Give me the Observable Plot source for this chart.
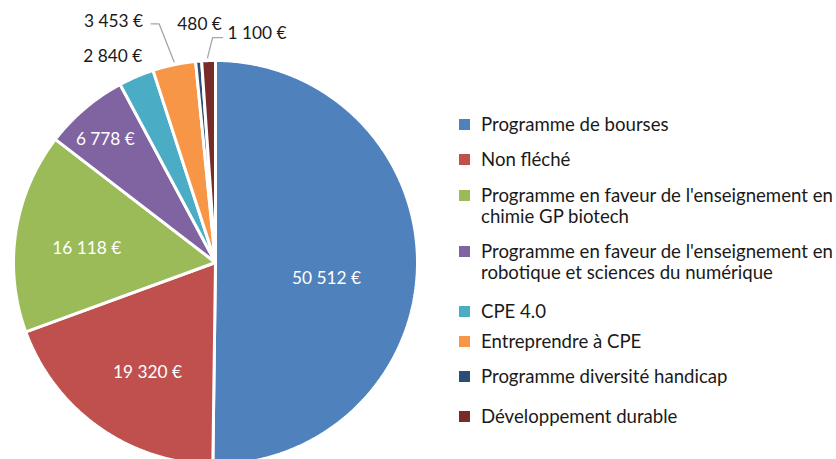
<!DOCTYPE html>
<html><head><meta charset="utf-8">
<script src="https://cdn.jsdelivr.net/npm/d3@7"></script>
<script src="https://cdn.jsdelivr.net/npm/@observablehq/plot@0.6"></script>
<style>
html,body{margin:0;padding:0;background:#fff;}
#wrap{position:relative;width:836px;height:459px;overflow:hidden;font-family:Lato,"Open Sans",sans-serif;}
#legend{position:absolute;left:0;top:0;}
.item{position:absolute;left:481px;font-size:18.6px;line-height:21px;color:#1a1a1a;white-space:pre;}
.sw{position:absolute;width:11px;height:11px;}
</style></head>
<body><div id="wrap"></div>
<script>
const categories = [
  "Programme de bourses",
  "Non fléché",
  "Programme en faveur de l'enseignement en\nchimie GP biotech",
  "Programme en faveur de l'enseignement en\nrobotique et sciences du numérique",
  "CPE 4.0",
  "Entreprendre à CPE",
  "Programme diversité handicap",
  "Développement durable"
];
const values = [50512, 19320, 16118, 6778, 2840, 3453, 480, 1100];
const colors = ["#4F81BD", "#C0504D", "#9BBB59", "#8064A2", "#4BACC6", "#F79646", "#2C4D75", "#772C2A"];

// layout (pixels)
const W = 836, H = 459, CX = 215, CY = 262, R = 202;
const FONT = "Lato, 'Open Sans', sans-serif";
const fmt = v => d3.format(",")(v).replace(/,/g, "\u00a0") + "\u00a0€";

const rows = categories.map((c, i) => ({cat: c, value: values[i], color: colors[i], i}));
const arcs = d3.pie().sort(null).value(d => d.value)(rows);

function slicePts(a) {
  const pts = [{x: 0, y: 0}];
  const n = Math.max(2, Math.ceil((a.endAngle - a.startAngle) / (Math.PI / 360)));
  for (let k = 0; k <= n; k++) {
    const t = a.startAngle + (a.endAngle - a.startAngle) * k / n;
    pts.push({x: Math.sin(t), y: Math.cos(t)});
  }
  pts.push({x: 0, y: 0});
  return pts;
}
const px = 1 / R;

const marks = arcs.map(a => Plot.line(slicePts(a), {x: "x", y: "y", fill: a.data.color, stroke: "white", strokeWidth: 3, strokeLinejoin: "miter", curve: "linear"}));

// inside labels: radius fraction + pixel nudge
const insideCfg = {
  0: {r: 0.55, dx: 0, dy: 15},
  1: {r: 0.66, dx: 9, dy: 1},
  2: {r: 0.67, dx: 5, dy: 7},
  3: {r: 0.82, dx: -3, dy: 3}
};
const inside = arcs.filter(a => a.data.i in insideCfg).map(a => {
  const m = (a.startAngle + a.endAngle) / 2, c = insideCfg[a.data.i];
  return {x: c.r * Math.sin(m) + c.dx * px, y: c.r * Math.cos(m) - c.dy * px, label: fmt(a.data.value)};
});
marks.push(Plot.text(inside, {x: "x", y: "y", text: "label", fill: "white", fontSize: 17.3, fontFamily: FONT}));

// outside labels: offsets in pixels from edge point at mid-angle
const outside = {
  4: {dx: 6, dy: -20, anchor: "end", leader: null},
  5: {dx: -31, dy: -43, anchor: "end", leader: [[0, -3], [-15, -41], [-23, -41]]},
  6: {dx: 1, dy: -37, anchor: "middle", leader: null},
  7: {dx: 19, dy: -27, anchor: "start", leader: [[-1, -3], [4, -23], [14, -23]]}
};
arcs.filter(a => a.data.i in outside).forEach(a => {
  const o = outside[a.data.i];
  const m = (a.startAngle + a.endAngle) / 2;
  const ex = Math.sin(m), ey = Math.cos(m);
  if (o.leader) {
    marks.push(Plot.line(o.leader.map(([dx, dy]) => ({x: ex + dx * px, y: ey - dy * px})), {x: "x", y: "y", stroke: "#a6a6a6", strokeWidth: 1.3}));
  }
  marks.push(Plot.text([{x: ex + o.dx * px, y: ey - o.dy * px, label: fmt(a.data.value)}], {x: "x", y: "y", text: "label", textAnchor: o.anchor, fill: "#1a1a1a", fontSize: 17.3, fontFamily: FONT}));
});

const chart = Plot.plot({
  width: W, height: H, margin: 0,
  x: {domain: [-CX / R, (W - CX) / R], axis: null},
  y: {domain: [-(H - CY) / R, CY / R], axis: null},
  style: {background: "white"},
  marks
});
const wrap = document.getElementById("wrap");
wrap.appendChild(chart);

// legend
const legend = document.createElement("div");
legend.id = "legend";
const legendTops = [125, 160, 196, 252, 312, 342, 377, 417];
rows.forEach((r, i) => {
  const sw = document.createElement("div");
  sw.className = "sw";
  sw.style.left = "459px";
  sw.style.top = (legendTops[i] - 6) + "px";
  sw.style.background = r.color;
  legend.appendChild(sw);
  const t = document.createElement("div");
  t.className = "item";
  t.style.top = (legendTops[i] - 11) + "px";
  t.textContent = r.cat;
  legend.appendChild(t);
});
wrap.appendChild(legend);
</script>
</body></html>
